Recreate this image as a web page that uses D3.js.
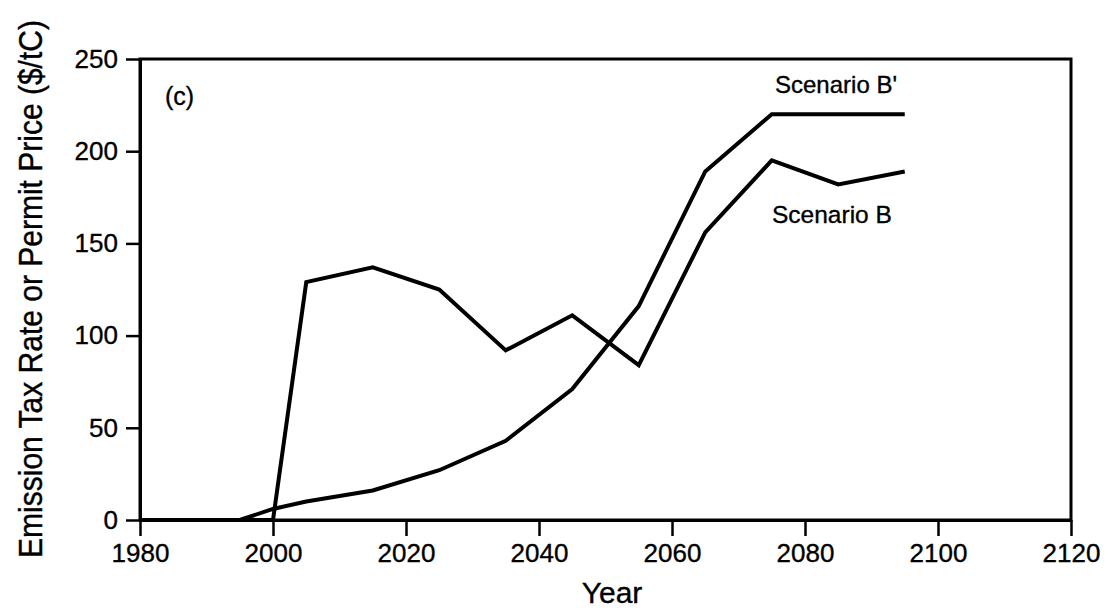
<!DOCTYPE html>
<html>
<head>
<meta charset="utf-8">
<script src="https://cdn.jsdelivr.net/npm/d3@7/dist/d3.min.js"></script>
<style>
  html, body { margin: 0; padding: 0; background: #fff; }
  svg { display: block; }
  text { font-family: "Liberation Sans", Arial, Helvetica, sans-serif; fill: #000; stroke: #000; stroke-width: 0.35px; }
</style>
</head>
<body>
<svg id="chart" width="1113" height="616"></svg>
<script>
// ---- data ----
const years = [1980, 1995, 2000, 2005, 2015, 2025, 2035, 2045, 2055, 2065, 2075, 2085, 2095];
const scenarioBPrime = [0, 0, 6, 10, 16, 27, 43, 71, 116, 189, 220, 220, 220];
const scenarioB = [0, 0, 0, 129, 137, 125, 92, 111, 84, 156, 195, 182, 189];
const xTicks = [1980, 2000, 2020, 2040, 2060, 2080, 2100, 2120];
const yTicks = [0, 50, 100, 150, 200, 250];
const panelLabel = "(c)";
const seriesLabels = ["Scenario B'", "Scenario B"];
const xTitle = "Year";
const yTitle = "Emission Tax Rate or Permit Price ($/tC)";

// ---- layout ----
const svg = d3.select("#chart");
const mLeft = 140, mRight = 1071, mTop = 59, mBottom = 520;
const x = d3.scaleLinear().domain([1980, 2120]).range([mLeft, mRight]);
const y = d3.scaleLinear().domain([0, 250]).range([mBottom, mTop]);

// frame
svg.append("rect")
  .attr("x", mLeft).attr("y", mTop)
  .attr("width", mRight - mLeft).attr("height", mBottom - mTop)
  .attr("fill", "none").attr("stroke", "#000").attr("stroke-width", 3);

// axes
const xAxis = svg.append("g")
  .attr("transform", `translate(0,${mBottom})`)
  .call(d3.axisBottom(x).tickValues(xTicks).tickFormat(d3.format("d"))
        .tickSize(16).tickSizeOuter(0).tickPadding(8));
const yAxis = svg.append("g")
  .attr("transform", `translate(${mLeft},0)`)
  .call(d3.axisLeft(y).tickValues(yTicks).tickFormat(d3.format("d"))
        .tickSize(14).tickSizeOuter(0).tickPadding(8));
[xAxis, yAxis].forEach(g => {
  g.select(".domain").attr("stroke", "#000").attr("stroke-width", 3);
  g.selectAll(".tick line").attr("stroke", "#000").attr("stroke-width", 2.5);
  g.selectAll(".tick text")
    .attr("font-size", 26)
    .attr("font-family", "Liberation Sans, Arial, Helvetica, sans-serif")
    .attr("fill", "#000");
});

// lines
const line = d3.line().x((d, i) => x(years[i])).y(d => y(d));
svg.append("path").datum(scenarioBPrime)
  .attr("d", line).attr("fill", "none").attr("stroke", "#000")
  .attr("stroke-width", 4).attr("stroke-linejoin", "miter");
svg.append("path").datum(scenarioB)
  .attr("d", line).attr("fill", "none").attr("stroke", "#000")
  .attr("stroke-width", 4).attr("stroke-linejoin", "miter");

// annotations
svg.append("text").attr("x", 165).attr("y", 105).attr("font-size", 25).text(panelLabel);
svg.append("text").attr("x", 775).attr("y", 93).attr("font-size", 24).text(seriesLabels[0]);
svg.append("text").attr("x", 772).attr("y", 223).attr("font-size", 24.5).text(seriesLabels[1]);

// axis titles
svg.append("text").attr("x", 612).attr("y", 603).attr("font-size", 30)
  .attr("text-anchor", "middle").text(xTitle);
svg.append("text")
  .attr("transform", "translate(42,289) rotate(-90) scale(1,1.08)")
  .attr("font-size", 30).attr("text-anchor", "middle").text(yTitle);
</script>
</body>
</html>
